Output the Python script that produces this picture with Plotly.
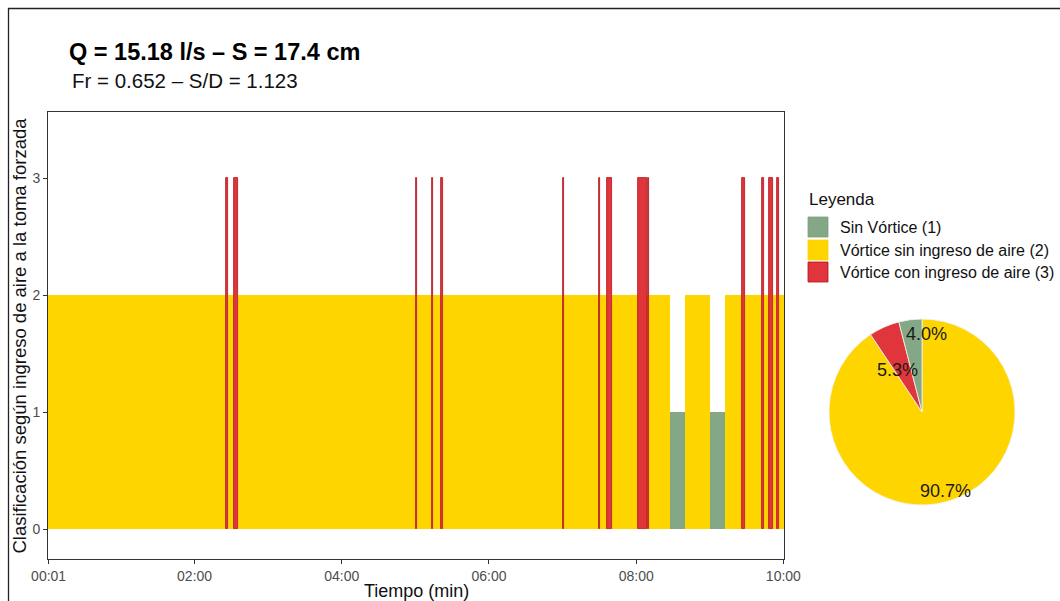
import plotly.graph_objects as go

# --- data -----------------------------------------------------------------
# Class per second over 1..600 s: 2 by default, with the intervals below.
n_seconds = 600
red_start = [146, 153, 301, 314, 321, 421, 450, 457, 482, 490, 567, 583, 589, 595]
red_len = [2, 3, 1, 1, 2, 1, 1, 4, 7, 1, 2, 2, 3, 2]
green_start = [508, 541]
green_len = [12, 12]

class_names = {1: "Sin Vórtice (1)", 2: "Vórtice sin ingreso de aire (2)", 3: "Vórtice con ingreso de aire (3)"}
class_colors = {1: "#84A886", 2: "#FFD500", 3: "#E0353A"}
class_lines = {1: "#7C9F7E", 2: "#FFD500", 3: "#B3141C"}

tick_vals = [1, 120, 240, 360, 480, 600]
tick_text = ["00:01", "02:00", "04:00", "06:00", "08:00", "10:00"]

# --- per-second class series and runs --------------------------------------
cls = [2] * n_seconds
for s, l in zip(red_start, red_len):
    for t in range(s, s + l):
        cls[t - 1] = 3
for s, l in zip(green_start, green_len):
    for t in range(s, s + l):
        cls[t - 1] = 1

runs = []  # (first second, last second, class)
start = 1
for t in range(2, n_seconds + 2):
    if t > n_seconds or cls[t - 1] != cls[start - 1]:
        runs.append((start, t - 1, cls[start - 1]))
        start = t

W, H = 1060, 601
px0, px1 = 48, 784      # plot area, pixels
py0, py1 = 112, 559

def fx(px):
    return px / W

def fy(py):
    return 1 - py / H

FONT = "Liberation Sans, Arial, sans-serif"

fig = go.Figure()

for c in (2, 1, 3):
    rr = [r for r in runs if r[2] == c]
    fig.add_trace(go.Bar(
        x=[(a - 0.5 + b + 0.5) / 2 for a, b, _ in rr],
        width=[b - a + 1 for a, b, _ in rr],
        y=[c] * len(rr),
        base=0,
        marker=dict(color=class_colors[c],
                    line=dict(color=class_lines[c], width=0.8 if c == 3 else 0)),
        name=class_names[c],
        showlegend=False,
        hoverinfo="skip",
    ))

# share of time per class (clockwise from 12 o'clock)
counts = {c: cls.count(c) for c in (1, 3, 2)}
total = sum(counts.values())
pie_order = [2, 3, 1]
fig.add_trace(go.Pie(
    values=[counts[c] for c in pie_order],
    labels=[class_names[c] for c in pie_order],
    marker=dict(colors=[class_colors[c] for c in pie_order],
                line=dict(color="#F2F2F2", width=0.8)),
    sort=False, direction="clockwise", rotation=0,
    textinfo="none", showlegend=False, hoverinfo="skip",
    domain=dict(x=[fx(922 - 93), fx(922 + 93)], y=[fy(412 + 93), fy(412 - 93)]),
))

pct_pos = {1: (926, 334), 3: (897, 370), 2: (945, 491)}
annotations = []
for c in (1, 3, 2):
    annotations.append(dict(
        x=fx(pct_pos[c][0]), y=fy(pct_pos[c][1]), xref="paper", yref="paper",
        text=f"{100 * counts[c] / total:.1f}%", showarrow=False,
        font=dict(family=FONT, size=18, color="#1a1a1a"),
        xanchor="center", yanchor="middle"))

# titles
annotations += [
    dict(x=fx(67), y=fy(52), xref="paper", yref="paper", xanchor="left", yanchor="middle",
         text="<b>Q = 15.18 l/s – S = 17.4 cm</b>", showarrow=False,
         font=dict(family=FONT, size=23.5, color="#000000")),
    dict(x=fx(70), y=fy(80), xref="paper", yref="paper", xanchor="left", yanchor="middle",
         text="Fr = 0.652 – S/D = 1.123", showarrow=False,
         font=dict(family=FONT, size=20.5, color="#111111")),
    dict(x=fx((px0 + px1) / 2), y=fy(591), xref="paper", yref="paper",
         xanchor="center", yanchor="middle", text="Tiempo (min)", showarrow=False,
         font=dict(family=FONT, size=18, color="#111111")),
    dict(x=fx(19), y=fy((py0 + py1) / 2), xref="paper", yref="paper",
         xanchor="center", yanchor="middle", textangle=-90,
         text="Clasificación según ingreso de aire a la toma forzada", showarrow=False,
         font=dict(family=FONT, size=18.5, color="#111111")),
    dict(x=fx(807), y=fy(200), xref="paper", yref="paper", xanchor="left", yanchor="middle",
         text="Leyenda", showarrow=False, font=dict(family=FONT, size=17, color="#111111")),
]

# legend keys
shapes = []
key_top = [217, 240, 262]
for c, top in zip((1, 2, 3), key_top):
    shapes.append(dict(type="rect", xref="paper", yref="paper",
                       x0=fx(808), x1=fx(828), y0=fy(top + 20), y1=fy(top),
                       fillcolor=class_colors[c], line=dict(color=class_lines[c], width=0.8)))
    annotations.append(dict(x=fx(838), y=fy(top + 10), xref="paper", yref="paper",
                            xanchor="left", yanchor="middle", text=class_names[c],
                            showarrow=False, font=dict(family=FONT, size=16, color="#111111")))

# outer frame
shapes.append(dict(type="rect", xref="paper", yref="paper",
                   x0=fx(8.5), x1=fx(1075), y0=fy(640), y1=fy(8.5),
                   line=dict(color="#222222", width=1.3), fillcolor="rgba(0,0,0,0)"))

fig.update_layout(
    width=W, height=H,
    margin=dict(l=0, r=0, t=0, b=0),
    paper_bgcolor="white", plot_bgcolor="white",
    barmode="overlay", bargap=0,
    showlegend=False,
    annotations=annotations, shapes=shapes,
    font=dict(family=FONT),
)
fig.update_xaxes(
    domain=[fx(px0), fx(px1)], range=[0.5, 600.5],
    tickvals=tick_vals, ticktext=tick_text,
    ticks="outside", ticklen=4, tickcolor="#333333",
    tickfont=dict(family=FONT, size=14, color="#4d4d4d"),
    showgrid=False, zeroline=False,
    showline=True, linecolor="#333333", linewidth=1, mirror=True,
    automargin=False,
)
fig.update_yaxes(
    domain=[fy(py1), fy(py0)], range=[-0.256, 3.564],
    tickvals=[0, 1, 2, 3], ticktext=["0", "1", "2", "3"],
    ticks="outside", ticklen=4, tickcolor="#333333",
    tickfont=dict(family=FONT, size=14, color="#4d4d4d"),
    showgrid=False, zeroline=False,
    showline=True, linecolor="#333333", linewidth=1, mirror=True,
    automargin=False,
)

fig.write_html("out.html")
